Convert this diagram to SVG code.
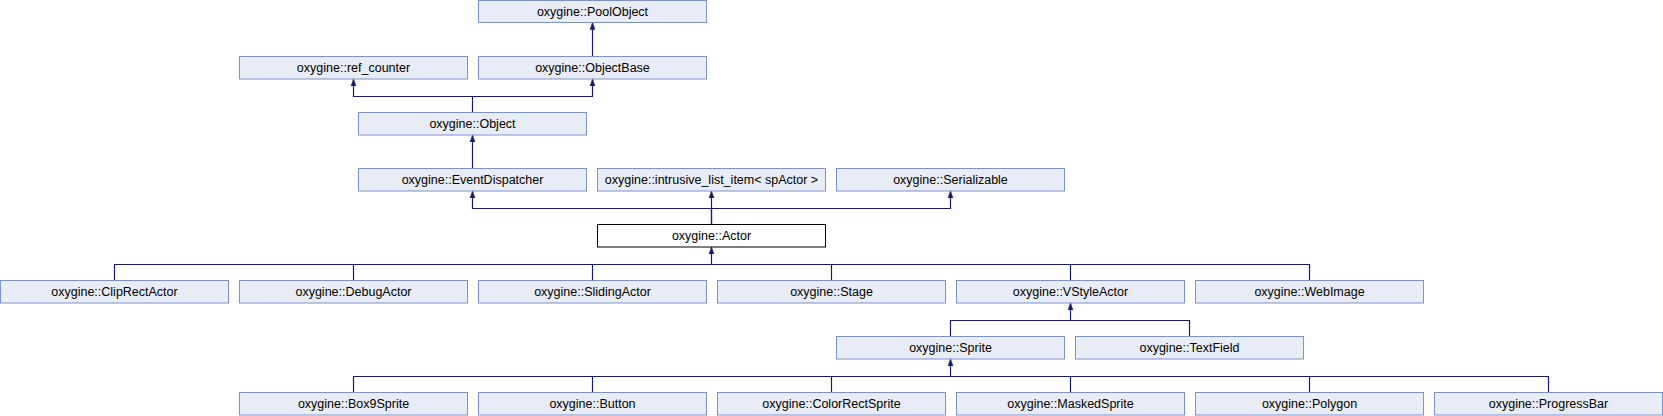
<svg xmlns="http://www.w3.org/2000/svg" width="1663" height="416" viewBox="0 0 1663 416">
<style>
.n rect{fill:#e8ecf5;stroke:#7c92ca;stroke-width:1}
.n.cur rect{fill:#ffffff;stroke:#000000}
.n text{font-family:"Liberation Sans",Arial,sans-serif;font-size:12.5px;fill:#000;text-anchor:middle}
.e path{fill:none;stroke:#191970;stroke-width:1.2}
</style>
<defs>
<marker id="ah" markerUnits="userSpaceOnUse" markerWidth="10" markerHeight="8" refX="7" refY="3" orient="auto" viewBox="0 0 10 6">
<path d="M0,0.5 L7,3 L0,5.5 z" fill="#191970" stroke="#191970" stroke-width="0.5"/>
</marker>
</defs>
<rect width="1663" height="416" fill="#ffffff"/>
<g id="edges" class="e">
<path d="M592.5,56.5 V22.5" marker-end="url(#ah)"/>
<path d="M472.5,112.5 V96.5 H353.5 V79" marker-end="url(#ah)"/>
<path d="M472.5,96.5 H592.5 V79" marker-end="url(#ah)"/>
<path d="M472.5,168.5 V135" marker-end="url(#ah)"/>
<path d="M711.5,224.5 V208.5 H472.5 V191" marker-end="url(#ah)"/>
<path d="M711.5,224.5 V191" marker-end="url(#ah)"/>
<path d="M711.5,208.5 H950.5 V191" marker-end="url(#ah)"/>
<path d="M711.5,264.5 V247" marker-end="url(#ah)"/>
<path d="M114.5,280.5 V264.5 H1309.5 V280.5"/>
<path d="M353.5,280.5 V264.5 M592.5,280.5 V264.5 M831.5,280.5 V264.5 M1070.5,280.5 V264.5"/>
<path d="M1070.5,320.5 V303" marker-end="url(#ah)"/>
<path d="M950.5,336.5 V320.5 H1189.5 V336.5"/>
<path d="M950.5,376.5 V359" marker-end="url(#ah)"/>
<path d="M353.5,392.5 V376.5 H1548.5 V392.5"/>
<path d="M592.5,392.5 V376.5 M831.5,392.5 V376.5 M1070.5,392.5 V376.5 M1309.5,392.5 V376.5"/>
</g>
<g id="PoolObject" class="n"><rect x="478.5" y="0.5" width="228" height="22"/><text x="592.5" y="16">oxygine::PoolObject</text></g>
<g id="ref_counter" class="n"><rect x="239.5" y="56.5" width="228" height="22.5"/><text x="353.5" y="72">oxygine::ref_counter</text></g>
<g id="ObjectBase" class="n"><rect x="478.5" y="56.5" width="228" height="22.5"/><text x="592.5" y="72">oxygine::ObjectBase</text></g>
<g id="Object" class="n"><rect x="358.5" y="112.5" width="228" height="22.5"/><text x="472.5" y="128">oxygine::Object</text></g>
<g id="EventDispatcher" class="n"><rect x="358.5" y="168.5" width="228" height="22.5"/><text x="472.5" y="184">oxygine::EventDispatcher</text></g>
<g id="intrusive_list_item" class="n"><rect x="597.5" y="168.5" width="228" height="22.5"/><text x="711.5" y="184">oxygine::intrusive_list_item&lt; spActor &gt;</text></g>
<g id="Serializable" class="n"><rect x="836.5" y="168.5" width="228" height="22.5"/><text x="950.5" y="184">oxygine::Serializable</text></g>
<g id="Actor" class="n cur"><rect x="597.5" y="224.5" width="228" height="22.5"/><text x="711.5" y="240">oxygine::Actor</text></g>
<g id="ClipRectActor" class="n"><rect x="0.5" y="280.5" width="228" height="22.5"/><text x="114.5" y="296">oxygine::ClipRectActor</text></g>
<g id="DebugActor" class="n"><rect x="239.5" y="280.5" width="228" height="22.5"/><text x="353.5" y="296">oxygine::DebugActor</text></g>
<g id="SlidingActor" class="n"><rect x="478.5" y="280.5" width="228" height="22.5"/><text x="592.5" y="296">oxygine::SlidingActor</text></g>
<g id="Stage" class="n"><rect x="717.5" y="280.5" width="228" height="22.5"/><text x="831.5" y="296">oxygine::Stage</text></g>
<g id="VStyleActor" class="n"><rect x="956.5" y="280.5" width="228" height="22.5"/><text x="1070.5" y="296">oxygine::VStyleActor</text></g>
<g id="WebImage" class="n"><rect x="1195.5" y="280.5" width="228" height="22.5"/><text x="1309.5" y="296">oxygine::WebImage</text></g>
<g id="Sprite" class="n"><rect x="836.5" y="336.5" width="228" height="22.5"/><text x="950.5" y="352">oxygine::Sprite</text></g>
<g id="TextField" class="n"><rect x="1075.5" y="336.5" width="228" height="22.5"/><text x="1189.5" y="352">oxygine::TextField</text></g>
<g id="Box9Sprite" class="n"><rect x="239.5" y="392.5" width="228" height="22.5"/><text x="353.5" y="408">oxygine::Box9Sprite</text></g>
<g id="Button" class="n"><rect x="478.5" y="392.5" width="228" height="22.5"/><text x="592.5" y="408">oxygine::Button</text></g>
<g id="ColorRectSprite" class="n"><rect x="717.5" y="392.5" width="228" height="22.5"/><text x="831.5" y="408">oxygine::ColorRectSprite</text></g>
<g id="MaskedSprite" class="n"><rect x="956.5" y="392.5" width="228" height="22.5"/><text x="1070.5" y="408">oxygine::MaskedSprite</text></g>
<g id="Polygon" class="n"><rect x="1195.5" y="392.5" width="228" height="22.5"/><text x="1309.5" y="408">oxygine::Polygon</text></g>
<g id="ProgressBar" class="n"><rect x="1434.5" y="392.5" width="228" height="22.5"/><text x="1548.5" y="408">oxygine::ProgressBar</text></g>
</svg>
